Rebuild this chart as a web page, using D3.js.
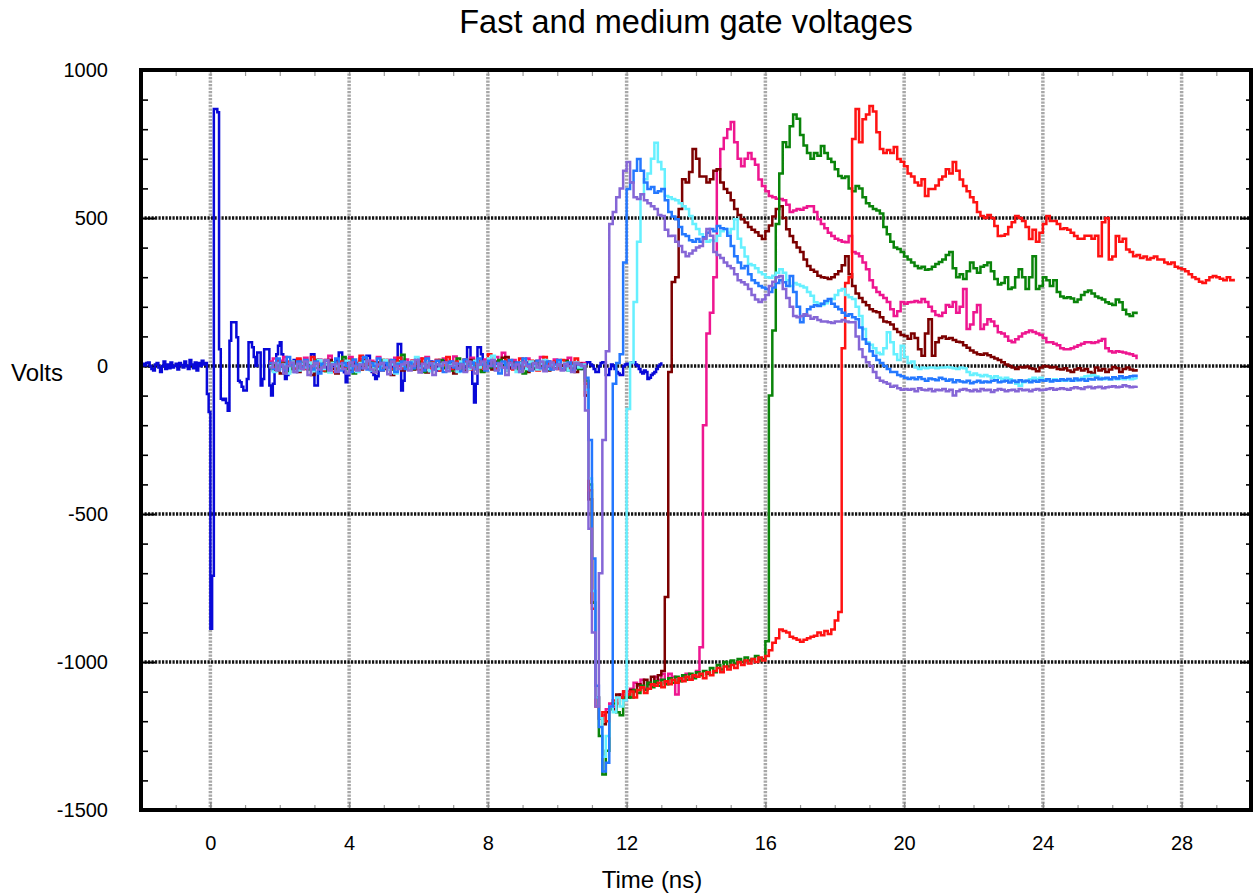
<!DOCTYPE html>
<html>
<head>
<meta charset="utf-8">
<script src="https://cdn.jsdelivr.net/npm/d3@7"></script>
<style>
  html, body { margin: 0; padding: 0; background: #fff; }
  svg { display: block; font-family: "Liberation Sans", Arial, Helvetica, sans-serif; }
</style>
</head>
<body>
<svg id="chart" width="1258" height="896"></svg>
<script>
// ---------------- data ----------------
const xTickValues = [0, 4, 8, 12, 16, 20, 24, 28];
const yTickValues = [-1500, -1000, -500, 0, 500, 1000];
const yGridValues = [-1000, -500, 0, 500];

// Reference pulse: sampled every 0.05 ns starting at -2 ns
const pulseStart = -2.0;
const pulseStep = 0.05;
const pulseVolts = [
  5, 8, 2, 10, 12, 0, -10, -15, 5, 10, -5, -20, 0, 15, -10, 5, -8, 12, -5, 0,
  8, -12, 10, 3, -5, 15, 0, -10, 20, 5, -8, 12, -15, 10, 0, 18, 5, 10, -95, -155,
  -888, -709, 868, 868, 857, 57, -111, -115, -111, -125, -151, 85, 148, 148, 148, 97, -50, -55, -70, -83,
  -83, -44, 80, 80, 63, 30, 0, 46, 46, -66, -44, 57, 57, 57, -66, -100, -60, 0, 40, 68,
  80, 40, 10, -44, -30, -10, 5, 15, 20, 10, -5, 0, 8, -10, 5, 12, 0, -8, 40, 40,
  -66, -66, -20, 0, 0, -10, 5, -15, 10, -5, 0, 10, -8, 20, 46, 46, 10, -21, -55, -30,
  -10, 5, -8, 10, 0, -12, 8, -5, 15, 20, 35, 35, -5, -20, -30, -44, -35, 10, 18, 10,
  -5, 8, -10, 5, 12, -6, 0, 20, 74, 74, -83, -50, -10, 5, -8, 10, -5, 0, 12, -10,
  5, -8, 10, -12, 0, 8, -5, 15, -10, 5, 0, -15, 10, -5, 8, 20, -10, 0, 12, -8,
  5, -10, 8, 0, -12, 10, -5, 15, 63, 63, 20, -60, -123, -60, 63, 63, 40, 10, -5, 8,
  -5, 10, 0, -8, 12, -10, 5, -5, 8, 0, -12, 10, 5, -8, 0, 10, -5, 8, -10, 5,
  0, -8, 12, -5, 10, 0, -10, 5, 8, -6, 0, 10, -12, 5, -5, 8, 0, -10, 6, 0,
  -5, 10, 0, -8, 5, -12, 8, 0, -5, 10, 5, -8, 0, 5, -10, 0, 8, 13, 13, 5,
  0, -10, -20, -20, 0, 10, 13, 13, -30, -30, -10, 5, 0, -10, -20, -25, -30, -30, 0, 5,
  8, 5, 10, 13, 13, 5, 0, -10, -20, -25, -15, -20, -44, -40, -30, -25, -20, -10, 0, 5,
  13
];

// Gate traces: sampled every 0.1 ns starting at 1.7 ns
const gateStart = 1.7;
const gateStep = 0.1;

const redVolts = [
  10, -5, 20, 8, -12, 15, 5, -8, 25, 0,
  -10, 12, 30, -5, 8, -15, 20, 10, -20, 5,
  15, -8, 0, 22, -12, 10, 35, -5, 8, -10,
  12, 0, -15, 20, 5, -10, 15, 28, -8, 10,
  -5, 18, 8, -12, 25, 0, -8, 12, 20, -15,
  5, 30, -10, 8, 15, -5, 22, 0, -12, 10,
  18, -8, 5, 40, 12, -10, 8, -5, 20, 15,
  -12, 10, 25, 0, -8, 18, 5, -15, 12, 30,
  8, -5, 15, -10, 20, 5, -12, 10, 25, 0,
  5, -60, -420, -820, -1150, -1190, -1170, -1200, -1150, -1130, -1140, -1120, -1100,
  -1110, -1100, -1120, -1095, -1085, -1105, -1090, -1075, -1080, -1070,
  -1085, -1065, -1075, -1060, -1070, -1055, -1065, -1050, -1060, -1045,
  -1050, -1040, -1055, -1035, -1045, -1030, -1020, -1035, -1015, -1025,
  -1010, -1020, -1000, -1010, -995, -1005, -990, -1000, -985, -995,
  -980,
  -960, -935, -920, -890, -895, -900, -915, -920, -925, -932,
  -925, -920, -915, -911, -900, -910, -895, -905, -890, -860, -831,
  60, 280, 300, 767, 868, 756, 834, 850,
  878, 860, 790, 733, 720, 730, 720, 740, 699, 690,
  675, 650, 640, 620, 610, 631, 574, 598, 598, 610,
  630, 640, 665, 650, 689, 660, 630, 608, 590, 570,
  553, 520, 507, 500, 510, 500, 473, 439, 440, 445,
  470, 486, 507, 500, 490, 470, 429, 460, 420, 450,
  480, 507, 490, 490, 480, 463, 465, 460, 450, 439,
  430, 430, 440, 440, 430, 440, 371, 486, 500, 360,
  370, 439, 420, 430, 394, 385, 371, 375, 365, 370,
  360, 365, 370, 360, 360, 350, 345, 350, 335, 330,
  327, 320, 310, 300, 294, 285, 280, 290, 300, 304,
  300, 295, 290, 300, 290, 295
];

const greenVolts = [
  -8, 5, -15, 10, 0, -20, 12, 5, -10, 8,
  15, -12, 0, 20, -5, 10, -18, 5, 12, -8,
  0, 30, -10, 5, -25, 8, 15, -5, 0, 12,
  -15, 5, 20, -8, 10, -12, 0, 15, 38, -5,
  8, -10, 5, 15, -20, 0, 12, -8, 5, 20,
  -5, 10, -15, 0, 25, -10, 5, 12, -8, 0,
  15, -20, 8, -5, 10, -12, 20, 0, -15, 8,
  5, -10, 12, -25, 0, 15, -8, 10, -5, 18,
  -12, 5, 0, 10, -8, 15, -15, 5, 8, -10,
  0, -50, -400, -800, -1120, -1250, -1380, -1300, -1160, -1140, -1170, -1180, -1120,
  -1110, -1120, -1095, -1105, -1080, -1095, -1070, -1085, -1065, -1080,
  -1060, -1075, -1055, -1070, -1050, -1065, -1045, -1060, -1040, -1055,
  -1035, -1045, -1030, -1040, -1020, -1035, -1010, -1025, -1000, -1015,
  -995, -1005, -990, -1000, -985, -995, -990, -980, -995, -990,
  -930, -100, 120, 480, 650, 756, 740, 810, 850, 835,
  780, 745, 720, 700, 720, 710, 743, 720, 700, 689,
  665, 642, 635, 640, 600, 590, 608, 600, 570, 550,
  540, 530, 525, 515, 470, 445, 420, 400, 395, 385,
  370, 360, 350, 338, 330, 335, 325, 327, 335, 345,
  351, 360, 375, 385, 330, 300, 310, 294, 320, 350,
  330, 315, 335, 340, 350, 320, 294, 275, 280, 300,
  260, 265, 300, 327, 300, 260, 300, 371, 260, 270,
  300, 290, 270, 290, 250, 235, 230, 232, 228, 216,
  225, 240, 250, 255, 245, 235, 230, 225, 215, 210,
  206, 225, 215, 190, 175, 169, 180, 175
];

const maroonVolts = [
  5, -15, 12, -25, 8, 0, -10, 15, -20, 10,
  -5, 8, -30, 12, 0, -15, 5, 20, -10, -25,
  10, -5, 15, -18, 0, 8, -12, 20, 5, -8,
  -20, 12, 0, -10, 15, -30, 5, 10, -15, 0,
  8, -12, 18, -5, 0, -22, 10, 5, -10, 15,
  -8, 0, 12, -25, 5, 10, -15, 0, 20, -10,
  5, -18, 10, 0, -12, 15, -5, 28, 30, -8,
  12, -10, 0, 8, -20, 5, 15, -12, 0, 10,
  -15, 5, 12, -8, 0, 18, -10, 5, -20, 8,
  0, -100, -450, -800, -1120, -1190, -1210, -1170, -1150, -1160, -1110, -1120, -1100,
  -1120, -1095, -1100, -1075, -1085, -1060, -1075, -1050, -1070, -1045,
  -1030, -780, -20, 284, 300, 530, 631, 620, 655, 733,
  700, 640, 640, 620, 631, 660, 665, 620, 598, 585,
  560, 530, 510, 496, 485, 470, 460, 452, 440, 429,
  455, 475, 505, 530, 540, 500, 462, 439, 418, 400,
  385, 360, 338, 325, 318, 305, 300, 298, 294, 300,
  310, 320, 340, 371, 310, 270, 245, 230, 216, 205,
  192, 185, 182, 165, 150, 148, 140, 125, 115, 105,
  101, 92, 110, 95, 57, 35, 110, 158, 35, 80,
  95, 100, 92, 95, 88, 82, 80, 70, 62, 52,
  46, 40, 38, 42, 36, 30, 25, 20, 13, 5,
  0, -5, -10, -3, -5, -2, -8, -10, -18, -5,
  0, -2, -5, -3, -10, -12, -8, -15, -20, -12,
  -8, -15, -10, -20, -25, -5, -15, -10, -20, -12,
  -3, -8, -20, -10, -5, -12, -15, -10
];

const pinkVolts = [
  15, 25, -5, 18, 30, 5, 12, -10, 20, 8,
  28, 10, -5, 15, 22, 0, 18, 35, 5, 12,
  -10, 20, 8, 30, 15, -5, 25, 10, 0, 18,
  12, 30, 5, -8, 20, 15, 28, 0, 10, 22,
  5, 18, -10, 25, 8, 30, 12, -5, 20, 10,
  25, 0, 15, 32, 8, -5, 18, 10, 28, 5,
  12, -8, 22, 15, 0, 30, 10, 45, 18, 5,
  20, 8, -5, 15, 25, 10, 0, 18, 30, -10,
  15, 5, 22, 10, -5, 18, 28, 8, 12, 0,
  10, -100, -450, -800, -1120, -1190, -1180, -1160, -1140, -1150, -1120, -1110, -1130,
  -1100, -1090, -1070, -1080, -1060, -1090, -1070, -1080, -1050, -1060,
  -1040, -1070, -1040, -1050, -1110, -1060, -1050, -1040, -1060, -1050,
  -1030, -950, -200, 110, 180, 300, 665, 733, 770, 800,
  824, 756, 700, 675, 700, 720, 699, 680, 630, 608,
  590, 574, 570, 565, 564, 560, 545, 520, 525, 530,
  528, 535, 540, 540, 520, 496, 480, 465, 450, 439,
  430, 425, 420, 418, 439, 385, 380, 371, 350, 327,
  290, 265, 250, 240, 230, 216, 192, 169, 185, 216,
  210, 215, 216, 220, 215, 226, 216, 200, 185, 172,
  169, 180, 206, 200, 216, 180, 200, 260, 125, 140,
  182, 206, 125, 140, 158, 150, 135, 114, 110, 100,
  85, 80, 90, 100, 110, 114, 120, 115, 110, 105,
  95, 80, 80, 75, 70, 60, 57, 57, 60, 65,
  70, 75, 80, 80, 78, 80, 85, 91, 60, 50,
  46, 50, 48, 46, 42, 40, 35, 23
];

const cyanVolts = [
  0, -20, 10, -10, 5, -25, 15, 0, -15, 8,
  -5, 12, -18, 0, 20, -10, 5, -22, 10, 0,
  -12, 5, 18, -8, 0, -20, 10, 15, -5, -15,
  8, -10, 0, 20, -12, 5, -25, 10, 0, 12,
  -8, 15, 30, -5, 0, 12, -18, 8, -10, 5,
  10, -15, 5, 0, -20, 15, 8, -10, 0, 18,
  -5, 10, -12, 25, 35, 0, -8, 12, -15, 5,
  0, -20, 10, 5, -10, 15, 0, -12, 8, 20,
  -10, 5, 0, 15, -8, 10, -15, 0, 12, -5,
  5, -80, -380, -760, -1120, -1190, -1320, -1250, -1150, -1170, -1120, -1150, -1130,
  -145, 12, 216, 420, 580, 631, 650, 700, 754, 689,
  665, 574, 570, 564, 560, 550, 540, 530, 507, 480,
  463, 445, 429, 420, 425, 422, 440, 455, 463, 450,
  463, 496, 430, 400, 370, 345, 340, 330, 317, 310,
  300, 298, 305, 315, 327, 315, 290, 270, 280, 275,
  270, 265, 250, 237, 215, 210, 206, 212, 220, 226,
  240, 255, 260, 240, 232, 226, 200, 169, 125, 80,
  72, 60, 45, 40, 60, 114, 80, 40, 20, 68,
  30, 10, 15, -5, -10, -5, -8, -5, -5, -8,
  -5, -5, -3, -5, -8, -10, -5, -8, -20, -30,
  -25, -30, -35, -30, -35, -40, -35, -40, -45, -40,
  -45, -50, -60, -67, -55, -50, -45, -40, -45, -40,
  -50, -45, -50, -45, -50, -48, -50, -45, -50, -48,
  -45, -40, -35, -33, -30, -35, -40, -45, -42, -45,
  -40, -45, -42, -45, -40, -45, -42, -45
];

const azureVolts = [
  10, -10, 25, 0, -15, 30, 5, -20, 15, -5,
  20, 0, -12, 15, -25, 8, 18, -10, 5, 25,
  -15, 10, 0, -20, 22, 5, -8, 30, -12, 10,
  0, 25, -15, 10, -5, 20, -20, 8, 15, -10,
  12, -8, 20, 0, -15, 25, 5, -12, 18, 0,
  -20, 10, 15, -5, 8, -18, 22, 0, 12, -10,
  25, 5, -15, 18, 0, 10, -25, 15, -5, 20,
  0, 12, -10, 25, 5, -15, 8, 18, -8, 0,
  15, -12, 5, 20, -10, 0, 12, -15, 8, 5,
  0, -40, -250, -650, -1080, -1220, -1370, -1340, -1150, -60, 10, 40, 350,
  598, 620, 660, 699, 660, 620, 598, 605, 585, 590,
  598, 560, 520, 505, 496, 470, 445, 439, 425, 420,
  429, 420, 435, 450, 463, 455, 473, 465, 463, 440,
  405, 371, 350, 330, 338, 310, 290, 280, 270, 265,
  260, 250, 265, 280, 290, 283, 270, 304, 250, 200,
  148, 170, 192, 200, 205, 203, 210, 220, 226, 210,
  200, 192, 180, 170, 175, 165, 158, 130, 90, 75,
  50, 35, 20, 10, 0, -10, -20, -20, -30, -35,
  -40, -44, -40, -45, -38, -44, -50, -42, -45, -48,
  -40, -44, -50, -46, -55, -48, -52, -55, -50, -58,
  -54, -50, -56, -52, -55, -50, -48, -55, -52, -50,
  -56, -50, -54, -48, -52, -50, -55, -50, -53, -48,
  -50, -45, -52, -48, -50, -45, -48, -44, -50, -42,
  -48, -45, -50, -44, -46, -40, -45, -42, -40, -45,
  -38, -42, -35, -40, -38, -35, -33, -38
];

const violetVolts = [
  -5, 10, -15, 5, -25, 0, 12, -20, 8, -10,
  15, -30, 0, 10, -12, -5, 20, -15, 5, -20,
  8, -10, -25, 12, 0, -15, 5, -8, 18, -12,
  -20, 5, 10, -5, -28, 15, 0, -10, 5, 12,
  -15, 0, 20, -22, 8, -5, 10, -30, 5, 0,
  12, -18, 0, 10, -10, 5, -20, 15, -5, -25,
  5, 15, -10, 0, 20, -15, 8, -5, -30, 10,
  -8, 5, -20, 12, 0, -12, 10, -5, 15, -18,
  0, 12, -10, 5, -15, 8, 0, -20, 10, 5,
  0, -150, -550, -900, -1150, -700, -250, 50, 480, 520, 570, 600, 660,
  689, 620, 570, 564, 580, 560, 550, 540, 530, 510,
  507, 460, 439, 440, 420, 405, 385, 371, 380, 390,
  400, 405, 430, 463, 440, 385, 375, 365, 350, 338,
  330, 310, 290, 283, 275, 260, 240, 225, 216, 225,
  240, 270, 285, 300, 304, 260, 230, 200, 169, 165,
  169, 175, 170, 160, 165, 155, 150, 150, 148, 145,
  150, 150, 155, 150, 148, 148, 100, 57, 30, 13,
  0, -20, -40, -50, -55, -60, -70, -67, -75, -80,
  -78, -80, -78, -85, -75, -80, -82, -78, -85, -80,
  -82, -78, -85, -80, -100, -85, -80, -78, -82, -85,
  -80, -85, -78, -82, -80, -88, -82, -78, -80, -85,
  -82, -80, -85, -78, -82, -80, -85, -80, -78, -82,
  -80, -78, -75, -80, -78, -75, -78, -80, -75, -72,
  -75, -78, -72, -70, -75, -72, -70, -75, -72, -70,
  -68, -72, -70, -65, -68, -72, -70, -67
];

// Drawing order: first listed is drawn underneath
const traces = [
  { name: "pulse",  color: "#0808d8", start: pulseStart, step: pulseStep, values: pulseVolts },
  { name: "pink",   color: "#ee1690", start: gateStart,  step: gateStep,  values: pinkVolts },
  { name: "maroon", color: "#7c0000", start: gateStart,  step: gateStep,  values: maroonVolts },
  { name: "green",  color: "#0a840a", start: gateStart,  step: gateStep,  values: greenVolts },
  { name: "red",    color: "#ff1212", start: gateStart,  step: gateStep,  values: redVolts },
  { name: "cyan",   color: "#66f0ff", start: gateStart,  step: gateStep,  values: cyanVolts },
  { name: "azure",  color: "#2478ff", start: gateStart,  step: gateStep,  values: azureVolts },
  { name: "violet", color: "#8566d6", start: gateStart,  step: gateStep,  values: violetVolts }
];

// ---------------- layout ----------------
const plot = { left: 141, right: 1251, top: 70, bottom: 810 };

const x = d3.scaleLinear().domain([-2, 30]).range([plot.left, plot.right]);
const y = d3.scaleLinear().domain([-1500, 1000]).range([plot.bottom, plot.top]);

const svg = d3.select("#chart");

svg.append("defs").append("clipPath").attr("id", "plot-clip")
  .append("rect")
  .attr("x", plot.left).attr("y", plot.top)
  .attr("width", plot.right - plot.left).attr("height", plot.bottom - plot.top);

// grid
const grid = svg.append("g");
grid.selectAll("line.vgrid").data(xTickValues).join("line")
  .attr("class", "vgrid")
  .attr("x1", d => x(d)).attr("x2", d => x(d))
  .attr("y1", plot.top).attr("y2", plot.bottom)
  .attr("stroke", "#a8a8a8").attr("stroke-width", 3.5)
  .attr("stroke-dasharray", "2.2,1.3");
grid.selectAll("line.hgrid").data(yGridValues).join("line")
  .attr("class", "hgrid")
  .attr("x1", plot.left).attr("x2", plot.right)
  .attr("y1", d => y(d)).attr("y2", d => y(d))
  .attr("stroke", "#141414").attr("stroke-width", 3.5)
  .attr("stroke-dasharray", "2.2,1.3");

// minor tick positions
const xMinor = d3.range(-1, 30, 1).filter(v => !xTickValues.includes(v));
const yMinor = d3.range(-1400, 1000, 100).filter(v => !yTickValues.includes(v));

function styleAxis(g, color, width) {
  g.select(".domain").remove();
  g.selectAll(".tick line").attr("stroke", color).attr("stroke-width", width);
}

// left axis with labels
svg.append("g").attr("transform", `translate(${plot.left},0)`)
  .call(d3.axisLeft(y).tickValues(yTickValues).tickSize(-14).tickPadding(33)
    .tickFormat(d => String(d)))
  .call(g => styleAxis(g, "#000", 2))
  .call(g => g.selectAll("text").attr("font-size", 20).attr("fill", "#000")
    .attr("font-family", "Liberation Sans, Arial, sans-serif"));
svg.append("g").attr("transform", `translate(${plot.left},0)`)
  .call(d3.axisLeft(y).tickValues(yMinor).tickSize(-7).tickFormat(""))
  .call(g => styleAxis(g, "#000", 1.6));

// right axis ticks
svg.append("g").attr("transform", `translate(${plot.right},0)`)
  .call(d3.axisRight(y).tickValues(yTickValues).tickSize(-11).tickFormat(""))
  .call(g => styleAxis(g, "#000", 2));
svg.append("g").attr("transform", `translate(${plot.right},0)`)
  .call(d3.axisRight(y).tickValues(yMinor).tickSize(-5).tickFormat(""))
  .call(g => styleAxis(g, "#000", 1.6));

// bottom axis with labels
svg.append("g").attr("transform", `translate(0,${plot.bottom})`)
  .call(d3.axisBottom(x).tickValues(xTickValues).tickSize(-8).tickPadding(26)
    .tickFormat(d => String(d)))
  .call(g => styleAxis(g, "#888", 1.6))
  .call(g => g.selectAll("text").attr("font-size", 20).attr("fill", "#000")
    .attr("font-family", "Liberation Sans, Arial, sans-serif"));
svg.append("g").attr("transform", `translate(0,${plot.bottom})`)
  .call(d3.axisBottom(x).tickValues(xMinor).tickSize(-5).tickFormat(""))
  .call(g => styleAxis(g, "#9a9a9a", 1.2));

// top axis ticks
svg.append("g").attr("transform", `translate(0,${plot.top})`)
  .call(d3.axisTop(x).tickValues(xTickValues.concat(xMinor)).tickSize(-6).tickFormat(""))
  .call(g => styleAxis(g, "#9a9a9a", 1.2));

// traces
const line = d3.line()
  .x(d => x(d[0]))
  .y(d => y(d[1]))
  .curve(d3.curveStepAfter);

const traceLayer = svg.append("g").attr("clip-path", "url(#plot-clip)");
traceLayer.selectAll("path").data(traces).join("path")
  .attr("d", tr => line(tr.values.map((v, i) => [tr.start + i * tr.step, v])))
  .attr("fill", "none")
  .attr("stroke", tr => tr.color)
  .attr("stroke-width", 2.5)
  .attr("stroke-linejoin", "miter");

// frame
svg.append("rect")
  .attr("x", plot.left).attr("y", plot.top)
  .attr("width", plot.right - plot.left).attr("height", plot.bottom - plot.top)
  .attr("fill", "none").attr("stroke", "#000").attr("stroke-width", 4);

// titles
svg.append("text")
  .attr("x", 686).attr("y", 33)
  .attr("text-anchor", "middle")
  .attr("font-size", 32.5)
  .text("Fast and medium gate voltages");

svg.append("text")
  .attr("x", 11).attr("y", 381)
  .attr("text-anchor", "start")
  .attr("font-size", 24)
  .text("Volts");

svg.append("text")
  .attr("x", 652).attr("y", 888)
  .attr("text-anchor", "middle")
  .attr("font-size", 24)
  .text("Time (ns)");
</script>
</body>
</html>
